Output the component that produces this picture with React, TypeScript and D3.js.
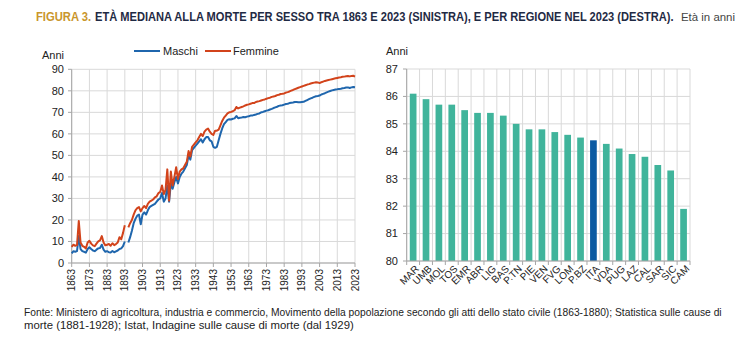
import React, { useLayoutEffect, useRef, useState } from "react";
import * as d3 from "d3";

const years: number[] = d3.range(1863, 2024);
// Median age at death, females (1863..2023); null = missing year
const femmine: (number | null)[] = [
  7.5, 8.5, 8.0, 8.3, 19.5, 9.5, 8.0, 7.5, 6.8, 9.5, // 1863-1872
  10.3, 9.0, 8.2, 7.8, 9.0, 10.0, 10.5, 12.5, 9.5, 8.2, // 1873-1882
  8.5, 8.8, 8.0, 9.2, 8.3, 8.8, 9.5, 12.0, 11.0, 14.0, // 1883-1892
  17.5, null, 16.5, 18.5, 20.0, 22.5, 24.5, 25.5, 26.0, 24.0, // 1893-1902
  25.5, 26.5, 25.5, 27.5, 28.5, 29.0, 29.5, 30.5, 31.0, 32.5, // 1903-1912
  33.0, 36.0, 32.0, 34.0, 43.5, 29.0, 42.5, 36.0, 40.0, 44.5, // 1913-1922
  39.0, 42.5, 43.5, 44.0, 45.5, 47.0, 52.0, 49.5, 54.0, 55.0, // 1923-1932
  56.0, 57.0, 58.5, 60.0, 59.0, 61.0, 62.0, 62.5, 61.0, 60.0, // 1933-1942
  59.5, 61.5, 61.5, 62.0, 64.0, 66.0, 67.5, 68.5, 69.5, 70.0, // 1943-1952
  70.2, 70.5, 71.0, 72.5, 71.8, 72.2, 72.5, 72.8, 73.2, 73.5, // 1953-1962
  73.7, 74.0, 74.3, 74.3, 74.8, 75.0, 75.2, 75.5, 75.8, 76.0, // 1963-1972
  76.3, 76.6, 76.8, 77.2, 77.4, 77.6, 78.0, 78.2, 78.5, 78.6, // 1973-1982
  78.8, 79.2, 79.4, 79.7, 80.1, 80.4, 80.8, 81.1, 81.4, 81.7, // 1983-1992
  82.0, 82.3, 82.6, 82.9, 83.1, 83.4, 83.6, 83.8, 84.0, 83.9, // 1993-2002
  83.6, 84.0, 84.3, 84.6, 84.8, 85.0, 85.2, 85.4, 85.6, 85.8, // 2003-2012
  86.0, 86.2, 86.3, 86.5, 86.6, 86.8, 86.9, 86.7, 86.9, 87.0, // 2013-2022
  86.6, // 2023
];
// Median age at death, males (1863..2023)
const maschi: (number | null)[] = [
  4.5, 5.5, 5.2, 5.5, 12.5, 6.5, 5.5, 5.2, 4.8, 6.5,
  7.3, 6.5, 5.8, 5.5, 6.2, 6.8, 7.0, 8.5, 6.2, 5.2,
  5.5, 5.0, 4.9, 5.6, 5.0, 5.4, 5.8, 6.5, 6.8, 7.8,
  10.0, null, 9.5, 12.0, 15.0, 18.5, 20.5, 22.0, 22.5, 18.0,
  22.5, 23.5, 22.5, 24.5, 26.0, 26.5, 27.0, 27.5, 28.5, 29.5,
  30.0, 32.5, 28.5, 30.0, 36.0, 28.5, 37.0, 34.5, 37.5, 40.0,
  37.0, 40.0, 41.5, 42.5, 44.0, 45.5, 50.0, 48.0, 52.5, 53.5,
  54.5, 55.5, 56.5, 57.5, 56.0, 57.5, 58.5, 58.5, 57.0, 56.5,
  54.0, 53.5, 54.0, 57.0, 60.0, 62.5, 64.5, 65.5, 66.5, 66.8,
  66.7, 67.0, 67.2, 68.3, 67.3, 67.5, 67.6, 67.8, 67.7, 68.0,
  68.2, 68.5, 68.5, 68.8, 69.0, 69.3, 69.5, 70.0, 70.2, 70.5,
  70.8, 71.0, 71.3, 71.6, 72.0, 72.3, 72.6, 73.0, 73.2, 73.3,
  73.6, 73.9, 74.0, 74.3, 74.5, 74.6, 74.8, 74.8, 74.7, 74.7,
  74.8, 74.9, 75.3, 75.7, 76.1, 76.5, 76.8, 77.2, 77.5, 77.6,
  77.8, 78.3, 78.6, 78.9, 79.3, 79.6, 79.9, 80.2, 80.4, 80.6,
  80.7, 80.9, 81.0, 81.2, 81.3, 81.5, 81.6, 81.3, 81.6, 81.8,
  81.7,
];
const yearTicks: number[] = d3.range(1863, 2024, 10);
const leftYTicks: number[] = d3.range(0, 91, 10);

const regioni: string[] = [
  "MAR", "UMB", "MOL", "TOS", "EMR", "ABR", "LIG", "BAS", "P.TN", "PIE", "VEN",
  "FVG", "LOM", "P.BZ", "ITA", "VDA", "PUG", "LAZ", "CAL", "SAR", "SIC", "CAM",
];
const eta2023: number[] = [
  86.1, 85.9, 85.7, 85.7, 85.5, 85.4, 85.4, 85.3, 85.0, 84.8, 84.8,
  84.7, 84.6, 84.5, 84.4, 84.27, 84.1, 83.9, 83.8, 83.5, 83.3, 81.9,
];
const rightYTicks: number[] = d3.range(80, 88, 1);

const FONT = "'Liberation Sans', Arial, sans-serif";
const BLUE = "#1f66ad";
const RED = "#d2431b";
const TEAL = "#40b49b";
const ITA_BLUE = "#0b5aa2";
const GRID = "#d9d9d9";
const AXIS = "#a6a6a6";
const TXT = "#222";

// Text horizontally squeezed (condensed look) to a target width via transform
function FitText(props: {
  x: number;
  y: number;
  width: number;
  size: number;
  fill: string;
  bold?: boolean;
  children: string;
}) {
  const ref = useRef<SVGTextElement>(null);
  const [k, setK] = useState(0.8);
  useLayoutEffect(() => {
    if (ref.current) {
      const w = ref.current.getComputedTextLength();
      if (w > 0) setK(props.width / w);
    }
  }, [props.width, props.children]);
  return (
    <text
      ref={ref}
      transform={`translate(${props.x},${props.y}) scale(${k},1)`}
      fontSize={props.size}
      fontWeight={props.bold ? "bold" : "normal"}
      fill={props.fill}
    >
      {props.children}
    </text>
  );
}

export default function App() {
  // Left chart
  const x = d3.scaleLinear().domain([1863, 2023]).range([71.7, 355]);
  const y = d3.scaleLinear().domain([0, 90]).range([263, 69.3]);
  const mkLine = (vals: (number | null)[]) =>
    d3
      .line<number>()
      .defined((_, i) => vals[i] != null)
      .x((yr) => x(yr))
      .y((_, i) => y(vals[i] as number))(years) || "";

  // Right chart
  const pad = 0.48;
  const xb = d3
    .scaleBand<string>()
    .domain(regioni)
    .range([406.7, 690])
    .paddingInner(pad)
    .paddingOuter(pad / 2);
  const step = xb.step();
  const yb = d3.scaleLinear().domain([80, 87]).range([261, 69]);
  const bounds = regioni.map((r) => (xb(r) as number) - (step * pad) / 2);
  bounds.push(690);

  return (
    <svg width={752} height={340} style={{ position: "absolute", left: 0, top: 0 }} fontFamily={FONT}>
      <rect width={752} height={340} fill="#fff" />
      {/* Title */}
      <FitText x={36} y={21} width={55} size={12.5} bold fill="#c9962c">FIGURA 3.</FitText>
      <FitText x={95} y={21} width={578} size={12.5} bold fill="#1f2a44">
        ETÀ MEDIANA ALLA MORTE PER SESSO TRA 1863 E 2023 (SINISTRA), E PER REGIONE NEL 2023 (DESTRA).
      </FitText>
      <FitText x={681} y={21} width={54} size={10.5} fill="#444">Età in anni</FitText>

      {/* Left chart grid */}
      {leftYTicks.map((t) => (
        <line key={"lg" + t} x1={71.7} x2={355} y1={y(t)} y2={y(t)} stroke={GRID} strokeWidth={1} />
      ))}
      {yearTicks.map((t) => (
        <line key={"lv" + t} x1={x(t)} x2={x(t)} y1={y(0)} y2={y(90)} stroke={GRID} strokeWidth={1} />
      ))}
      <line x1={71.7} x2={71.7} y1={y(0)} y2={y(90)} stroke={AXIS} />
      <line x1={71.7} x2={355} y1={y(0)} y2={y(0)} stroke={AXIS} />
      {leftYTicks.map((t) => (
        <g key={"lt" + t}>
          <line x1={68} x2={71.7} y1={y(t)} y2={y(t)} stroke={AXIS} />
          <text x={64} y={y(t)} dy="0.35em" textAnchor="end" fontSize={11} fill={TXT}>
            {t}
          </text>
        </g>
      ))}
      {yearTicks.map((t) => (
        <g key={"xt" + t}>
          <line x1={x(t)} x2={x(t)} y1={y(0)} y2={y(0) + 4} stroke={AXIS} />
          <text
            transform={`translate(${x(t)},${y(0) + 6}) rotate(-90)`}
            textAnchor="end"
            dy="0.35em"
            fontSize={10}
            fill={TXT}
          >
            {t}
          </text>
        </g>
      ))}
      <text x={42} y={59} fontSize={11} fill={TXT}>Anni</text>

      {/* Lines */}
      <path d={mkLine(maschi)} fill="none" stroke={BLUE} strokeWidth={2} strokeLinejoin="round" />
      <path d={mkLine(femmine)} fill="none" stroke={RED} strokeWidth={2} strokeLinejoin="round" />

      {/* Legend */}
      <line x1={134} x2={160} y1={51} y2={51} stroke={BLUE} strokeWidth={2} />
      <text x={163} y={51} dy="0.35em" fontSize={11} fill={TXT}>Maschi</text>
      <line x1={205} x2={231} y1={51} y2={51} stroke={RED} strokeWidth={2} />
      <text x={233} y={51} dy="0.35em" fontSize={11} fill={TXT}>Femmine</text>

      {/* Right chart grid */}
      {rightYTicks.map((t) => (
        <line key={"rg" + t} x1={406.7} x2={690} y1={yb(t)} y2={yb(t)} stroke={GRID} />
      ))}
      {bounds.map((b, i) => (
        <line key={"rv" + i} x1={b} x2={b} y1={yb(80)} y2={yb(87)} stroke={GRID} />
      ))}
      {regioni.map((r, i) => (
        <rect
          key={r}
          x={xb(r)}
          width={xb.bandwidth()}
          y={yb(eta2023[i])}
          height={yb(80) - yb(eta2023[i])}
          fill={r === "ITA" ? ITA_BLUE : TEAL}
        />
      ))}
      <line x1={406.7} x2={406.7} y1={yb(80)} y2={yb(87)} stroke={AXIS} />
      <line x1={406.7} x2={690} y1={yb(80)} y2={yb(80)} stroke={AXIS} />
      {bounds.map((b, i) => (
        <line key={"rt" + i} x1={b} x2={b} y1={yb(80)} y2={yb(80) + 4} stroke={AXIS} />
      ))}
      {rightYTicks.map((t) => (
        <g key={"ryt" + t}>
          <line x1={403} x2={406.7} y1={yb(t)} y2={yb(t)} stroke={AXIS} />
          <text x={398} y={yb(t)} dy="0.35em" textAnchor="end" fontSize={11} fill={TXT}>
            {t}
          </text>
        </g>
      ))}
      {regioni.map((r) => (
        <text
          key={"rl" + r}
          transform={`translate(${(xb(r) as number) + xb.bandwidth() / 2 + 4},${yb(80) + 6}) rotate(-45)`}
          textAnchor="end"
          dy="0.35em"
          fontSize={10}
          fill={TXT}
        >
          {r}
        </text>
      ))}
      <text x={386} y={55} fontSize={11} fill={TXT}>Anni</text>

      {/* Source */}
      <FitText x={24} y={316} width={698} size={10.5} fill={TXT}>
        Fonte: Ministero di agricoltura, industria e commercio, Movimento della popolazione secondo gli atti dello stato civile (1863-1880); Statistica sulle cause di
      </FitText>
      <FitText x={24} y={329} width={330} size={10.5} fill={TXT}>
        morte (1881-1928); Istat, Indagine sulle cause di morte (dal 1929)
      </FitText>
    </svg>
  );
}
